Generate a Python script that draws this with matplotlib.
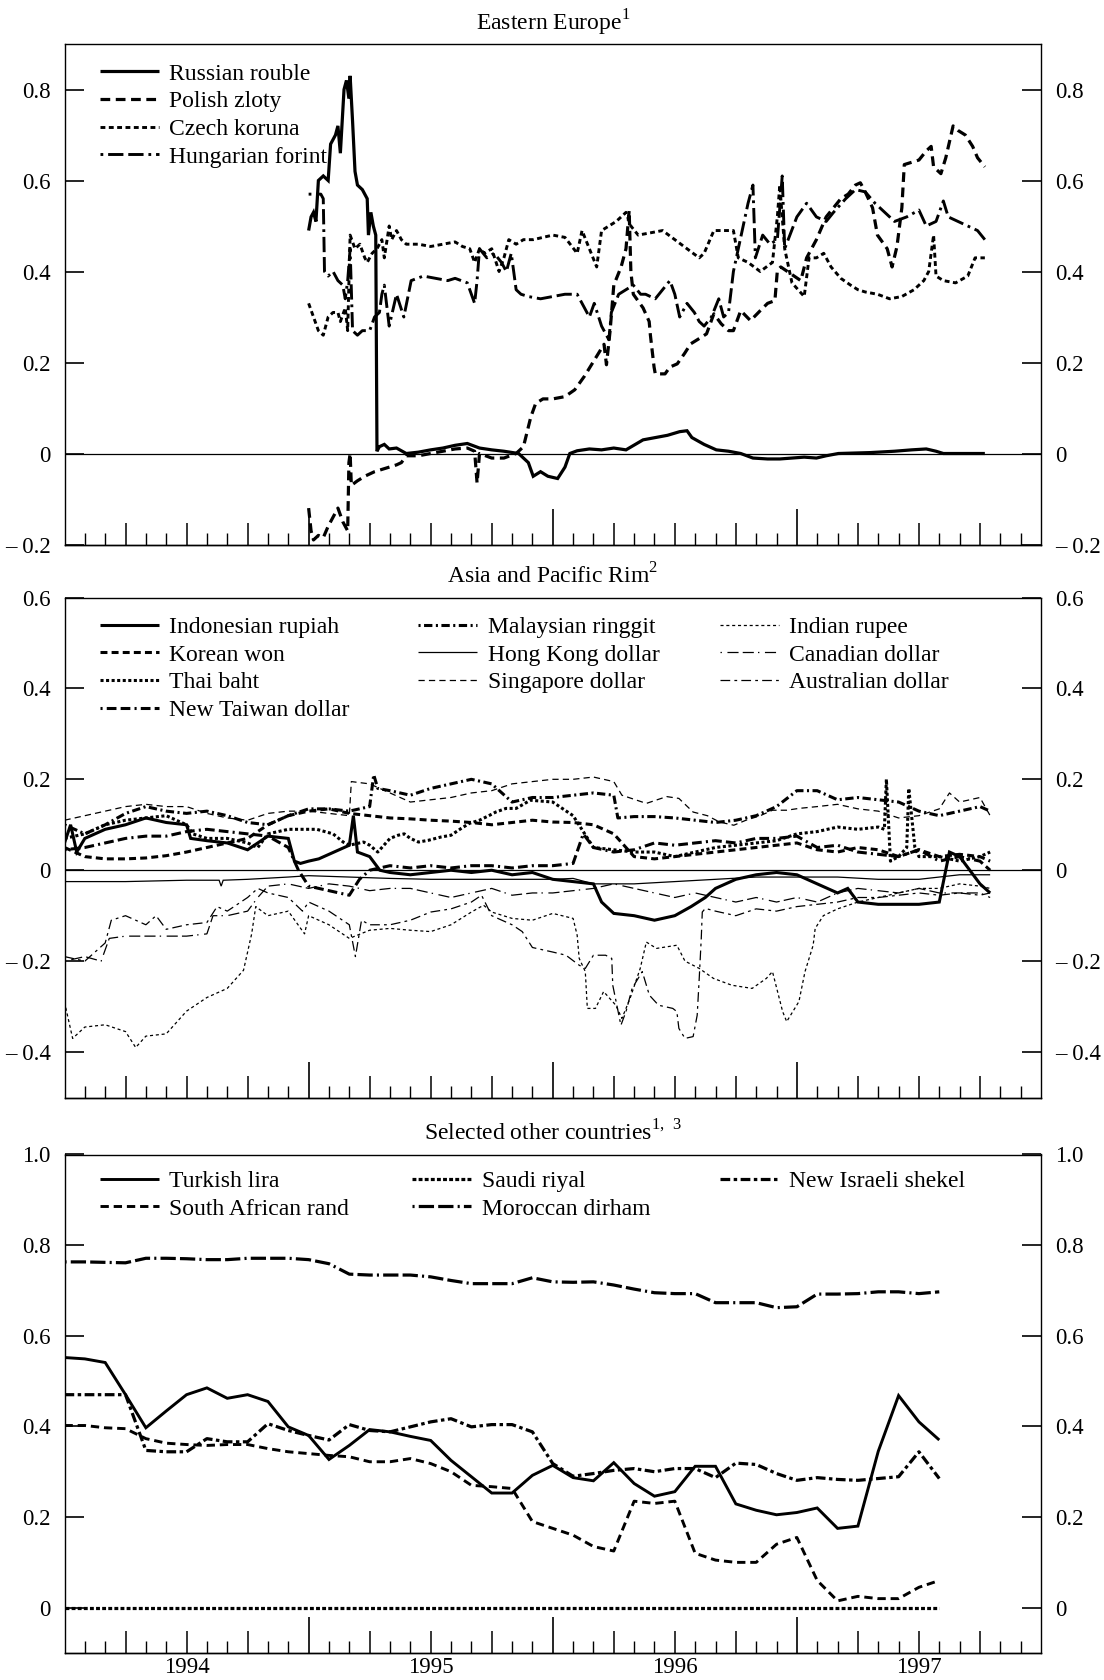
import numpy as np
import matplotlib
matplotlib.use("Agg")
import matplotlib.pyplot as plt
from matplotlib.ticker import FuncFormatter
from matplotlib.legend import Legend

plt.rcParams['font.family'] = ['Liberation Serif', 'DejaVu Serif']
plt.rcParams['mathtext.fontset'] = 'custom'
plt.rcParams['mathtext.rm'] = 'Liberation Serif'
plt.rcParams['lines.scale_dashes'] = False
plt.rcParams['lines.dash_capstyle'] = 'butt'
plt.rcParams['lines.solid_capstyle'] = 'butt'
plt.rcParams['lines.solid_joinstyle'] = 'miter'

# ---------------- Panel 1: Eastern Europe (decimal years) ----------------
rub_t = [1995.00, 1995.01, 1995.02, 1995.03, 1995.04, 1995.06, 1995.08, 1995.09, 1995.11, 1995.12,
         1995.13, 1995.145, 1995.155, 1995.165, 1995.17, 1995.18, 1995.19, 1995.20, 1995.22, 1995.24,
         1995.245, 1995.255, 1995.265, 1995.275, 1995.28, 1995.29, 1995.31, 1995.33, 1995.36, 1995.40,
         1995.45, 1995.50, 1995.55, 1995.60, 1995.65, 1995.70, 1995.75, 1995.80, 1995.86, 1995.90,
         1995.92, 1995.95, 1995.98, 1996.02, 1996.05, 1996.07, 1996.10, 1996.15, 1996.20, 1996.25,
         1996.30, 1996.37, 1996.42, 1996.47, 1996.52, 1996.55, 1996.57, 1996.62, 1996.67, 1996.72,
         1996.77, 1996.82, 1996.88, 1996.93, 1996.98, 1997.03, 1997.08, 1997.12, 1997.17, 1997.30,
         1997.40, 1997.47, 1997.53, 1997.57, 1997.60, 1997.70, 1997.77]
rub_v = [0.49, 0.52, 0.53, 0.51, 0.60, 0.61, 0.60, 0.68, 0.70, 0.72,
         0.66, 0.80, 0.82, 0.78, 0.83, 0.73, 0.62, 0.59, 0.58, 0.56,
         0.48, 0.53, 0.50, 0.48, 0.005, 0.015, 0.02, 0.01, 0.012, 0.0,
         0.003, 0.008, 0.012, 0.018, 0.022, 0.012, 0.008, 0.005, 0.0, -0.02,
         -0.05, -0.04, -0.05, -0.055, -0.03, 0.0, 0.006, 0.01, 0.008, 0.012,
         0.008, 0.03, 0.035, 0.04, 0.048, 0.05, 0.035, 0.02, 0.008, 0.005,
         0.0, -0.01, -0.012, -0.012, -0.01, -0.008, -0.01, -0.005, 0.0, 0.002,
         0.005, 0.008, 0.01, 0.005, 0.0, 0.0, 0.0]

pln_t = [1995.00, 1995.01, 1995.02, 1995.04, 1995.06, 1995.08, 1995.10, 1995.12, 1995.14, 1995.16,
         1995.165, 1995.17, 1995.175, 1995.20, 1995.23, 1995.27, 1995.30, 1995.33, 1995.36, 1995.38,
         1995.40, 1995.45, 1995.50, 1995.55, 1995.60, 1995.65, 1995.68, 1995.69, 1995.70, 1995.75,
         1995.80, 1995.85, 1995.88, 1995.91, 1995.93, 1995.96, 1996.00, 1996.05, 1996.09, 1996.13,
         1996.17, 1996.21, 1996.22, 1996.235, 1996.25, 1996.28, 1996.30, 1996.313, 1996.32, 1996.33,
         1996.37, 1996.395, 1996.40, 1996.415, 1996.42, 1996.46, 1996.48, 1996.51, 1996.54, 1996.565,
         1996.61, 1996.63, 1996.66, 1996.69, 1996.72, 1996.74, 1996.77, 1996.81, 1996.85, 1996.88,
         1996.91, 1996.92, 1996.934, 1996.975, 1997.016, 1997.04, 1997.08, 1997.12, 1997.15, 1997.18,
         1997.21, 1997.24, 1997.26, 1997.28, 1997.31, 1997.33, 1997.37, 1997.39, 1997.41, 1997.43,
         1997.44, 1997.47, 1997.50, 1997.53, 1997.55, 1997.56, 1997.59, 1997.61, 1997.64, 1997.66,
         1997.69, 1997.72, 1997.74, 1997.77]
pln_v = [-0.12, -0.17, -0.19, -0.18, -0.185, -0.16, -0.14, -0.12, -0.15, -0.17,
         -0.02, 0.0, -0.07, -0.06, -0.05, -0.04, -0.035, -0.03, -0.025, -0.02,
         -0.005, -0.005, 0.0, 0.005, 0.01, 0.012, 0.005, -0.065, 0.0, -0.01,
         -0.01, 0.0, 0.015, 0.08, 0.11, 0.12, 0.12, 0.125, 0.14, 0.17,
         0.205, 0.24, 0.195, 0.27, 0.37, 0.41, 0.45, 0.534, 0.40, 0.35,
         0.32, 0.29, 0.26, 0.19, 0.175, 0.175, 0.19, 0.197, 0.22, 0.241,
         0.256, 0.263, 0.307, 0.285, 0.27, 0.27, 0.314, 0.292, 0.314, 0.33,
         0.336, 0.402, 0.41, 0.395, 0.38, 0.43, 0.47, 0.52, 0.54, 0.56,
         0.57, 0.59, 0.595, 0.575, 0.54, 0.48, 0.45, 0.41, 0.455, 0.54,
         0.635, 0.64, 0.645, 0.665, 0.675, 0.63, 0.615, 0.65, 0.72, 0.71,
         0.70, 0.675, 0.65, 0.63]

czk_t = [1995.00, 1995.02, 1995.04, 1995.06, 1995.08, 1995.10, 1995.12, 1995.13, 1995.15, 1995.16,
         1995.17, 1995.19, 1995.21, 1995.23, 1995.24, 1995.26, 1995.28, 1995.30, 1995.31, 1995.33,
         1995.34, 1995.36, 1995.38, 1995.40, 1995.45, 1995.50, 1995.55, 1995.60, 1995.63, 1995.66,
         1995.68, 1995.70, 1995.72, 1995.75, 1995.78, 1995.80, 1995.82, 1995.85, 1995.88, 1995.92,
         1995.96, 1996.00, 1996.05, 1996.10, 1996.12, 1996.15, 1996.18, 1996.20, 1996.23, 1996.26,
         1996.28, 1996.30, 1996.32, 1996.35, 1996.40, 1996.45, 1996.50, 1996.55, 1996.60, 1996.62,
         1996.66, 1996.70, 1996.74, 1996.76, 1996.80, 1996.85, 1996.90, 1996.92, 1996.93, 1996.95,
         1996.98, 1997.03, 1997.05, 1997.08, 1997.11, 1997.14, 1997.18, 1997.22, 1997.25, 1997.28,
         1997.33, 1997.38, 1997.43, 1997.48, 1997.52, 1997.54, 1997.56, 1997.57, 1997.60, 1997.65,
         1997.70, 1997.73, 1997.77]
czk_v = [0.33, 0.30, 0.27, 0.26, 0.30, 0.31, 0.31, 0.29, 0.32, 0.27,
         0.48, 0.45, 0.46, 0.43, 0.42, 0.44, 0.45, 0.47, 0.43, 0.50,
         0.47, 0.49, 0.47, 0.46, 0.46, 0.455, 0.46, 0.465, 0.455, 0.45,
         0.42, 0.45, 0.44, 0.45, 0.40, 0.43, 0.47, 0.46, 0.47, 0.47,
         0.475, 0.48, 0.475, 0.44, 0.49, 0.45, 0.41, 0.49, 0.50, 0.51,
         0.52, 0.53, 0.50, 0.48, 0.485, 0.49, 0.47, 0.45, 0.43, 0.44,
         0.49, 0.49, 0.49, 0.43, 0.42, 0.40, 0.42, 0.52, 0.59, 0.45,
         0.375, 0.345, 0.43, 0.43, 0.44, 0.41, 0.385, 0.37, 0.36, 0.355,
         0.35, 0.34, 0.345, 0.36, 0.38, 0.40, 0.48, 0.39, 0.38, 0.375,
         0.39, 0.43, 0.43]

huf_t = [1995.00, 1995.05, 1995.06, 1995.065, 1995.08, 1995.10, 1995.12, 1995.14, 1995.15, 1995.16,
         1995.17, 1995.18, 1995.20, 1995.22, 1995.25, 1995.27, 1995.29, 1995.30, 1995.31, 1995.33,
         1995.36, 1995.39, 1995.42, 1995.47, 1995.52, 1995.57, 1995.60, 1995.65, 1995.68, 1995.69,
         1995.70, 1995.73, 1995.76, 1995.79, 1995.81, 1995.83, 1995.85, 1995.87, 1995.90, 1995.95,
         1996.00, 1996.05, 1996.10, 1996.13, 1996.15, 1996.17, 1996.20, 1996.23, 1996.24, 1996.27,
         1996.30, 1996.33, 1996.36, 1996.38, 1996.42, 1996.45, 1996.48, 1996.50, 1996.52, 1996.55,
         1996.58, 1996.60, 1996.62, 1996.65, 1996.68, 1996.70, 1996.72, 1996.74, 1996.76, 1996.78,
         1996.80, 1996.82, 1996.83, 1996.86, 1996.89, 1996.92, 1996.94, 1996.95, 1997.00, 1997.04,
         1997.08, 1997.12, 1997.15, 1997.20, 1997.24, 1997.28, 1997.32, 1997.36, 1997.40, 1997.45,
         1997.50, 1997.53, 1997.57, 1997.60, 1997.62, 1997.66, 1997.70, 1997.74, 1997.77]
huf_v = [0.57, 0.57, 0.56, 0.40, 0.39, 0.40, 0.38, 0.37, 0.34, 0.38,
         0.45, 0.27, 0.26, 0.27, 0.27, 0.30, 0.31, 0.35, 0.37, 0.28,
         0.35, 0.30, 0.38, 0.39, 0.385, 0.38, 0.385, 0.375, 0.33, 0.38,
         0.45, 0.43, 0.44, 0.42, 0.40, 0.44, 0.36, 0.35, 0.345, 0.34,
         0.345, 0.35, 0.35, 0.32, 0.30, 0.33, 0.28, 0.25, 0.31, 0.35,
         0.36, 0.37, 0.35, 0.35, 0.34, 0.36, 0.38, 0.35, 0.30, 0.33,
         0.31, 0.29, 0.28, 0.30, 0.34, 0.30, 0.31, 0.40, 0.45, 0.50,
         0.55, 0.59, 0.43, 0.48, 0.46, 0.47, 0.61, 0.45, 0.52, 0.55,
         0.52, 0.51, 0.53, 0.56, 0.58, 0.575, 0.55, 0.53, 0.51, 0.52,
         0.535, 0.50, 0.51, 0.555, 0.52, 0.51, 0.50, 0.49, 0.47]

# ---------------- Panel 2: Asia and Pacific Rim (months since Jan 1994) ----------------
idr_m = [0, 0.3, 0.6, 1, 2, 3, 4, 5, 6, 6.2, 7, 8, 9, 10, 11, 11.3, 11.6, 12, 12.5, 13, 13.5, 14, 14.2,
         14.4, 15, 15.5, 16, 17, 18, 19, 20, 21, 22, 23, 24, 25, 26, 26.4, 27, 28, 29, 30, 30.8, 31.5,
         32, 33, 34, 35, 36, 37, 38, 38.5, 39, 40, 41, 42, 43, 43.5, 44, 45, 45.5]
idr_v = [0.06, 0.10, 0.04, 0.07, 0.09, 0.10, 0.115, 0.105, 0.10, 0.07, 0.065, 0.06, 0.045, 0.075, 0.07,
         0.02, 0.015, 0.02, 0.025, 0.035, 0.045, 0.055, 0.12, 0.04, 0.03, 0.0, -0.005, -0.01, -0.005,
         0.0, -0.005, 0.0, -0.01, -0.005, -0.02, -0.025, -0.03, -0.07, -0.095, -0.10, -0.11, -0.10,
         -0.08, -0.06, -0.04, -0.02, -0.01, -0.005, -0.01, -0.03, -0.05, -0.04, -0.07, -0.075, -0.075,
         -0.075, -0.07, 0.04, 0.03, -0.03, -0.05]

krw_m = [0, 1, 2, 3, 4, 5, 6, 7, 8, 9, 10, 11, 12, 13, 14, 15, 16, 17, 18, 19, 20, 21, 22, 23, 24,
         25, 26, 27, 28, 29, 30, 31, 32, 33, 34, 35, 36, 37, 38, 39, 40, 41, 42, 43, 44, 45, 45.5]
krw_v = [0.05, 0.03, 0.025, 0.025, 0.027, 0.032, 0.04, 0.05, 0.06, 0.07, 0.10, 0.12, 0.13, 0.135,
         0.125, 0.12, 0.115, 0.113, 0.11, 0.108, 0.105, 0.10, 0.105, 0.11, 0.106, 0.105, 0.10, 0.08,
         0.03, 0.025, 0.03, 0.035, 0.04, 0.045, 0.05, 0.055, 0.06, 0.045, 0.04, 0.05, 0.045, 0.03,
         0.045, 0.03, 0.035, 0.03, 0.02]

thb_m = [0, 1, 2, 3, 4, 5, 6, 6.3, 7, 8, 9, 9.5, 10, 11, 11.6, 12.4, 13.2, 13.7, 14, 14.7, 15, 15.4,
         15.7, 16, 16.4, 16.7, 17, 17.4, 17.9, 18.5, 19, 19.5, 19.9, 20.4, 20.9, 21.2, 21.7, 22.2, 22.9,
         24, 25, 25.5, 26, 27, 28, 29, 30, 31, 32, 33, 34, 35, 36, 37, 38, 39, 40, 40.3, 40.4, 40.6,
         41, 41.4, 41.5, 41.8, 42, 43, 44, 45, 45.5]
thb_v = [0.07, 0.08, 0.10, 0.11, 0.115, 0.12, 0.10, 0.08, 0.07, 0.07, 0.06, 0.05, 0.08, 0.09, 0.09,
         0.09, 0.08, 0.062, 0.055, 0.062, 0.055, 0.04, 0.055, 0.07, 0.077, 0.08, 0.07, 0.062, 0.066,
         0.073, 0.077, 0.092, 0.103, 0.11, 0.121, 0.128, 0.136, 0.136, 0.154, 0.15, 0.12, 0.085, 0.05,
         0.045, 0.04, 0.04, 0.03, 0.04, 0.05, 0.055, 0.06, 0.065, 0.08, 0.085, 0.095, 0.09, 0.095, 0.09,
         0.20, 0.02, 0.03, 0.05, 0.18, 0.05, 0.03, 0.03, 0.02, 0.03, 0.04]

twd_m = [0, 1, 2, 3, 4, 5, 6, 7, 8, 9, 10, 11, 11.5, 12, 13, 14, 14.5, 15, 16, 17, 18, 19, 20, 21,
         22, 23, 24, 25, 25.5, 26, 27, 28, 29, 30, 31, 32, 33, 34, 35, 36, 37, 38, 39, 40, 41, 42, 43,
         44, 45, 45.5]
twd_v = [0.045, 0.05, 0.06, 0.07, 0.075, 0.075, 0.085, 0.09, 0.085, 0.08, 0.075, 0.05, 0.0, -0.035,
         -0.045, -0.055, -0.02, 0.0, 0.01, 0.005, 0.01, 0.005, 0.01, 0.01, 0.005, 0.01, 0.01, 0.015,
         0.08, 0.05, 0.04, 0.045, 0.06, 0.055, 0.06, 0.065, 0.06, 0.07, 0.07, 0.075, 0.05, 0.055, 0.04,
         0.035, 0.03, 0.045, 0.02, 0.03, 0.02, 0.0]

myr_m = [0, 1, 2, 3, 4, 5, 6, 7, 8, 9, 10, 11, 12, 13, 14, 15, 15.2, 15.4, 16, 17, 18, 19, 20, 21,
         22, 23, 24, 25, 26, 27, 27.2, 28, 29, 30, 31, 32, 33, 34, 35, 36, 37, 38, 39, 40, 41, 42, 43,
         44, 45, 45.5]
myr_v = [0.10, 0.08, 0.10, 0.125, 0.14, 0.13, 0.125, 0.13, 0.12, 0.105, 0.10, 0.12, 0.135, 0.135,
         0.13, 0.14, 0.21, 0.18, 0.175, 0.165, 0.18, 0.19, 0.20, 0.19, 0.15, 0.16, 0.16, 0.165, 0.17,
         0.165, 0.115, 0.118, 0.118, 0.115, 0.11, 0.105, 0.11, 0.12, 0.14, 0.175, 0.175, 0.155, 0.16,
         0.155, 0.15, 0.13, 0.12, 0.13, 0.14, 0.13]

hkd_m = [0, 3, 6, 7.6, 7.7, 7.8, 9, 11, 12, 14, 16, 18, 20, 22, 24, 25, 26, 28, 30, 32, 34, 36, 38,
         40, 42, 44, 45.5]
hkd_v = [-0.025, -0.025, -0.022, -0.022, -0.035, -0.022, -0.02, -0.015, -0.012, -0.015, -0.018,
         -0.02, -0.02, -0.02, -0.02, -0.018, -0.03, -0.03, -0.025, -0.02, -0.015, -0.015, -0.015,
         -0.02, -0.02, -0.01, -0.01]

sgd_m = [0, 1, 2, 3, 4, 5, 6, 7, 8, 9, 10, 11, 12, 13, 14, 14.1, 15, 16, 17, 18, 19, 20, 21, 22, 23,
         24, 25, 26, 27, 27.4, 28.6, 29.6, 30.2, 30.9, 31.6, 32.2, 32.9, 33.5, 34.2, 34.8, 35.5, 36.1,
         37, 38, 39, 40, 41, 42, 43, 43.5, 44, 45, 45.5]
sgd_v = [0.11, 0.12, 0.13, 0.14, 0.145, 0.14, 0.14, 0.125, 0.115, 0.11, 0.125, 0.13, 0.13, 0.125,
         0.12, 0.195, 0.19, 0.17, 0.15, 0.155, 0.16, 0.17, 0.175, 0.19, 0.195, 0.20, 0.20, 0.205, 0.195,
         0.165, 0.147, 0.162, 0.158, 0.128, 0.12, 0.106, 0.099, 0.11, 0.12, 0.132, 0.132, 0.136, 0.14,
         0.145, 0.135, 0.13, 0.115, 0.12, 0.135, 0.17, 0.15, 0.16, 0.12]

inr_m = [0, 0.4, 1, 2, 3, 3.5, 4, 5, 5.4, 6, 7, 8, 8.8, 9.2, 9.4, 10, 11, 11.8, 12, 13, 14, 15, 16,
         17, 18, 19, 20, 20.6, 21, 22, 23, 24, 25, 25.2, 25.3, 25.6, 25.7, 26.1, 26.5, 27.1, 27.4, 27.8,
         28.3, 28.6, 29.1, 30.1, 30.5, 31.2, 31.9, 32.8, 33.8, 34.5, 34.8, 35.3, 35.5, 36.1, 36.4, 36.8,
         36.9, 37.3, 38, 39, 40, 41, 42, 43, 44, 45, 45.5]
inr_v = [-0.29, -0.37, -0.345, -0.34, -0.355, -0.39, -0.365, -0.36, -0.34, -0.31, -0.28, -0.26,
         -0.22, -0.14, -0.08, -0.10, -0.09, -0.14, -0.10, -0.12, -0.15, -0.132, -0.128, -0.132,
         -0.135, -0.12, -0.092, -0.077, -0.092, -0.106, -0.11, -0.095, -0.106, -0.143, -0.194,
         -0.223, -0.304, -0.304, -0.267, -0.297, -0.326, -0.282, -0.216, -0.158, -0.172, -0.165,
         -0.20, -0.216, -0.238, -0.253, -0.26, -0.238, -0.223, -0.311, -0.333, -0.289, -0.223,
         -0.165, -0.128, -0.10, -0.085, -0.07, -0.06, -0.05, -0.04, -0.04, -0.03, -0.035, -0.04]

cad_m = [0, 1, 1.8, 2.2, 3, 4, 5, 6, 7, 7.3, 8, 9, 9.5, 10, 11, 12, 13, 14, 15, 16, 17, 18, 19, 20,
         21, 22, 23, 24, 25, 26, 27, 28, 29, 30, 31, 32, 33, 34, 35, 36, 37, 38, 39, 40, 41, 42, 43,
         44, 45, 45.5]
cad_v = [-0.20, -0.19, -0.20, -0.15, -0.145, -0.145, -0.145, -0.145, -0.14, -0.10, -0.10, -0.09,
         -0.06, -0.035, -0.03, -0.04, -0.03, -0.035, -0.045, -0.04, -0.04, -0.05, -0.06, -0.05,
         -0.04, -0.055, -0.05, -0.05, -0.045, -0.04, -0.03, -0.04, -0.05, -0.06, -0.05, -0.06, -0.07,
         -0.06, -0.07, -0.06, -0.07, -0.05, -0.04, -0.045, -0.05, -0.04, -0.05, -0.05, -0.05, -0.06]

aud_m = [0, 1, 2, 2.3, 3, 4, 4.5, 5, 6, 7, 7.5, 8, 9, 9.5, 10, 11, 11.7, 12, 13, 14, 14.3, 14.6, 15,
         16, 17, 18, 19, 20, 20.5, 21, 22, 22.5, 23, 24, 24.65, 25.3, 25.6, 26, 26.6, 26.9, 26.95,
         27.35, 27.6, 27.9, 28.4, 28.75, 29.2, 29.9, 30.1, 30.2, 30.5, 30.9, 31.1, 31.2, 31.3, 31.35,
         31.5, 32, 33, 34, 35, 36, 37, 38, 39, 40, 41, 42, 43, 44, 45, 45.5]
aud_v = [-0.19, -0.20, -0.16, -0.11, -0.10, -0.12, -0.10, -0.13, -0.12, -0.115, -0.08, -0.09, -0.06,
         -0.04, -0.05, -0.06, -0.09, -0.07, -0.09, -0.12, -0.19, -0.11, -0.12, -0.12, -0.11, -0.092,
         -0.085, -0.07, -0.055, -0.10, -0.12, -0.135, -0.17, -0.18, -0.187, -0.209, -0.216, -0.187,
         -0.187, -0.194, -0.253, -0.341, -0.311, -0.26, -0.223, -0.275, -0.297, -0.304, -0.311,
         -0.348, -0.37, -0.366, -0.319, -0.238, -0.15, -0.092, -0.084, -0.09, -0.10, -0.085, -0.09,
         -0.08, -0.075, -0.07, -0.06, -0.06, -0.055, -0.05, -0.055, -0.05, -0.055, -0.05]

# ---------------- Panel 3: Selected other countries (monthly from Jan 1994) ----------------
try_v = [0.552, 0.549, 0.541, 0.47, 0.397, 0.434, 0.47, 0.485, 0.462, 0.47,
         0.455, 0.399, 0.38, 0.327, 0.358, 0.393, 0.388, 0.378, 0.369, 0.325,
         0.289, 0.253, 0.253, 0.292, 0.314, 0.287, 0.28, 0.32, 0.274, 0.246,
         0.256, 0.312, 0.312, 0.229, 0.215, 0.205, 0.21, 0.22, 0.175, 0.18,
         0.345, 0.468, 0.41, 0.37]
zar_v = [0.402, 0.402, 0.397, 0.395, 0.373, 0.363, 0.36, 0.358, 0.36, 0.36,
         0.351, 0.344, 0.34, 0.336, 0.333, 0.322, 0.322, 0.329, 0.318, 0.30,
         0.27, 0.267, 0.263, 0.19, 0.175, 0.16, 0.135, 0.125, 0.235, 0.23,
         0.235, 0.12, 0.105, 0.10, 0.10, 0.14, 0.155, 0.06, 0.015, 0.025,
         0.02, 0.02, 0.045, 0.06]
sar_v = [0.0] * 44
mad_v = [0.763, 0.763, 0.762, 0.761, 0.771, 0.771, 0.770, 0.768, 0.768, 0.771,
         0.771, 0.771, 0.768, 0.759, 0.736, 0.734, 0.734, 0.734, 0.73, 0.722,
         0.715, 0.715, 0.715, 0.728, 0.719, 0.718, 0.719, 0.712, 0.703, 0.695,
         0.693, 0.693, 0.673, 0.673, 0.673, 0.662, 0.664, 0.692, 0.692, 0.693,
         0.697, 0.697, 0.693, 0.697]
ils_v = [0.47, 0.47, 0.47, 0.47, 0.347, 0.344, 0.344, 0.373, 0.366, 0.366,
         0.406, 0.391, 0.38, 0.37, 0.404, 0.391, 0.388, 0.399, 0.41, 0.417,
         0.399, 0.404, 0.404, 0.388, 0.318, 0.29, 0.296, 0.303, 0.307, 0.30,
         0.307, 0.307, 0.287, 0.319, 0.316, 0.296, 0.281, 0.287, 0.283, 0.281,
         0.285, 0.289, 0.344, 0.285]
p3_months = np.arange(len(try_v))

year_labels = ['1994', '1995', '1996', '1997']
titles = ['Eastern Europe$^{1}$', 'Asia and Pacific Rim$^{2}$', 'Selected other countries$^{1,\\ 3}$']


def m2y(m):
    return 1994 + np.asarray(m, dtype=float) / 12.0


W, H = 1104, 1680
fig = plt.figure(figsize=(W / 100, H / 100), dpi=100)
LEFT, RIGHT = 64.5, 1041


def make_axes(top, bottom):
    return fig.add_axes([LEFT / W, 1 - bottom / H, (RIGHT - LEFT) / W, (bottom - top) / H])


ax1 = make_axes(44, 544.5)
ax2 = make_axes(597.5, 1097.5)
ax3 = make_axes(1154.5, 1653)

FS = 17


def yfmt(v, pos):
    if abs(v) < 1e-9:
        return '0'
    s = f'{abs(v):.1f}'
    return '\u2013 ' + s if v < 0 else s


months_all = 1994 + np.arange(1, 48) / 12.0
month_ticks = [t for i, t in enumerate(months_all, start=1) if i % 3 != 0]
quarter_ticks = [t for i, t in enumerate(months_all, start=1) if i % 3 == 0 and i % 12 != 0]


def style(ax, ylim, yticks, title, xlabels=False):
    ax.set_xlim(1994, 1998)
    ax.set_ylim(*ylim)
    for s in ax.spines.values():
        s.set_linewidth(1.0)
    ax.set_yticks(yticks)
    ax.yaxis.set_major_formatter(FuncFormatter(yfmt))
    ax.tick_params(axis='y', which='major', direction='in', length=14, width=1.2,
                   left=True, right=True, labelleft=True, labelright=True,
                   labelsize=FS - 0.5, pad=10)
    ax.set_xticks([1995, 1996, 1997])
    ax.set_xticks(month_ticks, minor=True)
    ax.tick_params(axis='x', which='major', direction='in', length=26, width=1.2,
                   labelbottom=False, top=False)
    ax.tick_params(axis='x', which='minor', direction='in', length=8.5, width=1.0, top=False)
    sec = ax.secondary_xaxis('bottom')
    sec.set_xticks(quarter_ticks)
    sec.tick_params(axis='x', direction='in', length=16, width=1.1, labelbottom=False)
    sec.spines['bottom'].set_linewidth(1.0)
    if xlabels:
        lab = ax.secondary_xaxis('bottom')
        lab.set_xticks([1994.5, 1995.5, 1996.5, 1997.5], labels=year_labels)
        lab.tick_params(axis='x', length=0, pad=3, labelsize=FS - 0.5)
        lab.spines['bottom'].set_visible(False)
    ax.set_title(title, fontsize=FS, pad=10)


leg_kw = dict(frameon=False, fontsize=FS, handlelength=2.5, handletextpad=0.45,
              labelspacing=0.26, borderpad=0, borderaxespad=0, loc='upper left')


def add_legend(ax, handles, xa, ya):
    lg = Legend(ax, handles, [h.get_label() for h in handles],
                bbox_to_anchor=(xa, ya), bbox_transform=ax.transAxes, **leg_kw)
    ax.add_artist(lg)


K = 'black'
# Panel 1
ax1.axhline(0, color=K, lw=0.9)
l_rub, = ax1.plot(rub_t, rub_v, color=K, lw=2.3, ls='-', label='Russian rouble')
l_pln, = ax1.plot(pln_t, pln_v, color=K, lw=2.3, ls=(0, (7, 4)), label='Polish zloty')
l_czk, = ax1.plot(czk_t, czk_v, color=K, lw=2.1, ls=(0, (3.5, 2.5)), label='Czech koruna')
l_huf, = ax1.plot(huf_t, huf_v, color=K, lw=2.1, ls=(0, (2, 3.5, 11, 3.5, 11, 3.5)), label='Hungarian forint')
style(ax1, (-0.2, 0.9), [-0.2, 0, 0.2, 0.4, 0.6, 0.8], titles[0])
add_legend(ax1, [l_rub, l_pln, l_czk, l_huf], 0.036, 0.962)

# Panel 2
ax2.axhline(0, color=K, lw=0.9)
THK, THN = 2.2, 0.9
p2 = {}
p2['idr'], = ax2.plot(m2y(idr_m), idr_v, color=K, lw=THK, ls='-', label='Indonesian rupiah')
p2['krw'], = ax2.plot(m2y(krw_m), krw_v, color=K, lw=THK, ls=(0, (5, 3)), label='Korean won')
p2['thb'], = ax2.plot(m2y(thb_m), thb_v, color=K, lw=THK, ls=(0, (2.2, 1.8)), label='Thai baht')
p2['twd'], = ax2.plot(m2y(twd_m), twd_v, color=K, lw=THK, ls=(0, (1.5, 3, 7, 3, 7, 3)), label='New Taiwan dollar')
p2['myr'], = ax2.plot(m2y(myr_m), myr_v, color=K, lw=THK, ls=(0, (1.5, 2.5, 6, 2.5)), label='Malaysian ringgit')
p2['hkd'], = ax2.plot(m2y(hkd_m), hkd_v, color=K, lw=THN, ls='-', label='Hong Kong dollar')
p2['sgd'], = ax2.plot(m2y(sgd_m), sgd_v, color=K, lw=THN, ls=(0, (4.5, 3)), label='Singapore dollar')
p2['inr'], = ax2.plot(m2y(inr_m), inr_v, color=K, lw=THN, ls=(0, (2.2, 2)), label='Indian rupee')
p2['cad'], = ax2.plot(m2y(cad_m), cad_v, color=K, lw=THN, ls=(0, (1, 4, 8, 3, 8, 3)), label='Canadian dollar')
p2['aud'], = ax2.plot(m2y(aud_m), aud_v, color=K, lw=THN, ls=(0, (7, 3, 2, 3)), label='Australian dollar')
style(ax2, (-0.5, 0.6), [-0.4, -0.2, 0, 0.2, 0.4, 0.6], titles[1])
cols2 = [(['idr', 'krw', 'thb', 'twd'], 0.036), (['myr', 'hkd', 'sgd'], 0.362), (['inr', 'cad', 'aud'], 0.671)]
for keys, xa in cols2:
    add_legend(ax2, [p2[k] for k in keys], xa, 0.962)

# Panel 3
x3 = m2y(p3_months)
p3 = {}
p3['try'], = ax3.plot(x3, try_v, color=K, lw=2.1, ls='-', label='Turkish lira')
p3['zar'], = ax3.plot(x3, zar_v, color=K, lw=2.1, ls=(0, (6, 3.5)), label='South African rand')
p3['sar'], = ax3.plot(x3, sar_v, color=K, lw=2.3, ls=(0, (2.8, 1.6)), label='Saudi riyal')
p3['mad'], = ax3.plot(x3, mad_v, color=K, lw=2.3, ls=(0, (1.5, 3, 11, 3, 11, 3)), label='Moroccan dirham')
p3['ils'], = ax3.plot(x3, ils_v, color=K, lw=2.3, ls=(0, (7, 2.5, 2.5, 2.5)), label='New Israeli shekel')
style(ax3, (-0.1, 1.0), [0, 0.2, 0.4, 0.6, 0.8, 1.0], titles[2], xlabels=True)
cols3 = [(['try', 'zar'], 0.036), (['sar', 'mad'], 0.356), (['ils'], 0.671)]
for keys, xa in cols3:
    add_legend(ax3, [p3[k] for k in keys], xa, 0.968)

fig.savefig('out.png', dpi=100)
